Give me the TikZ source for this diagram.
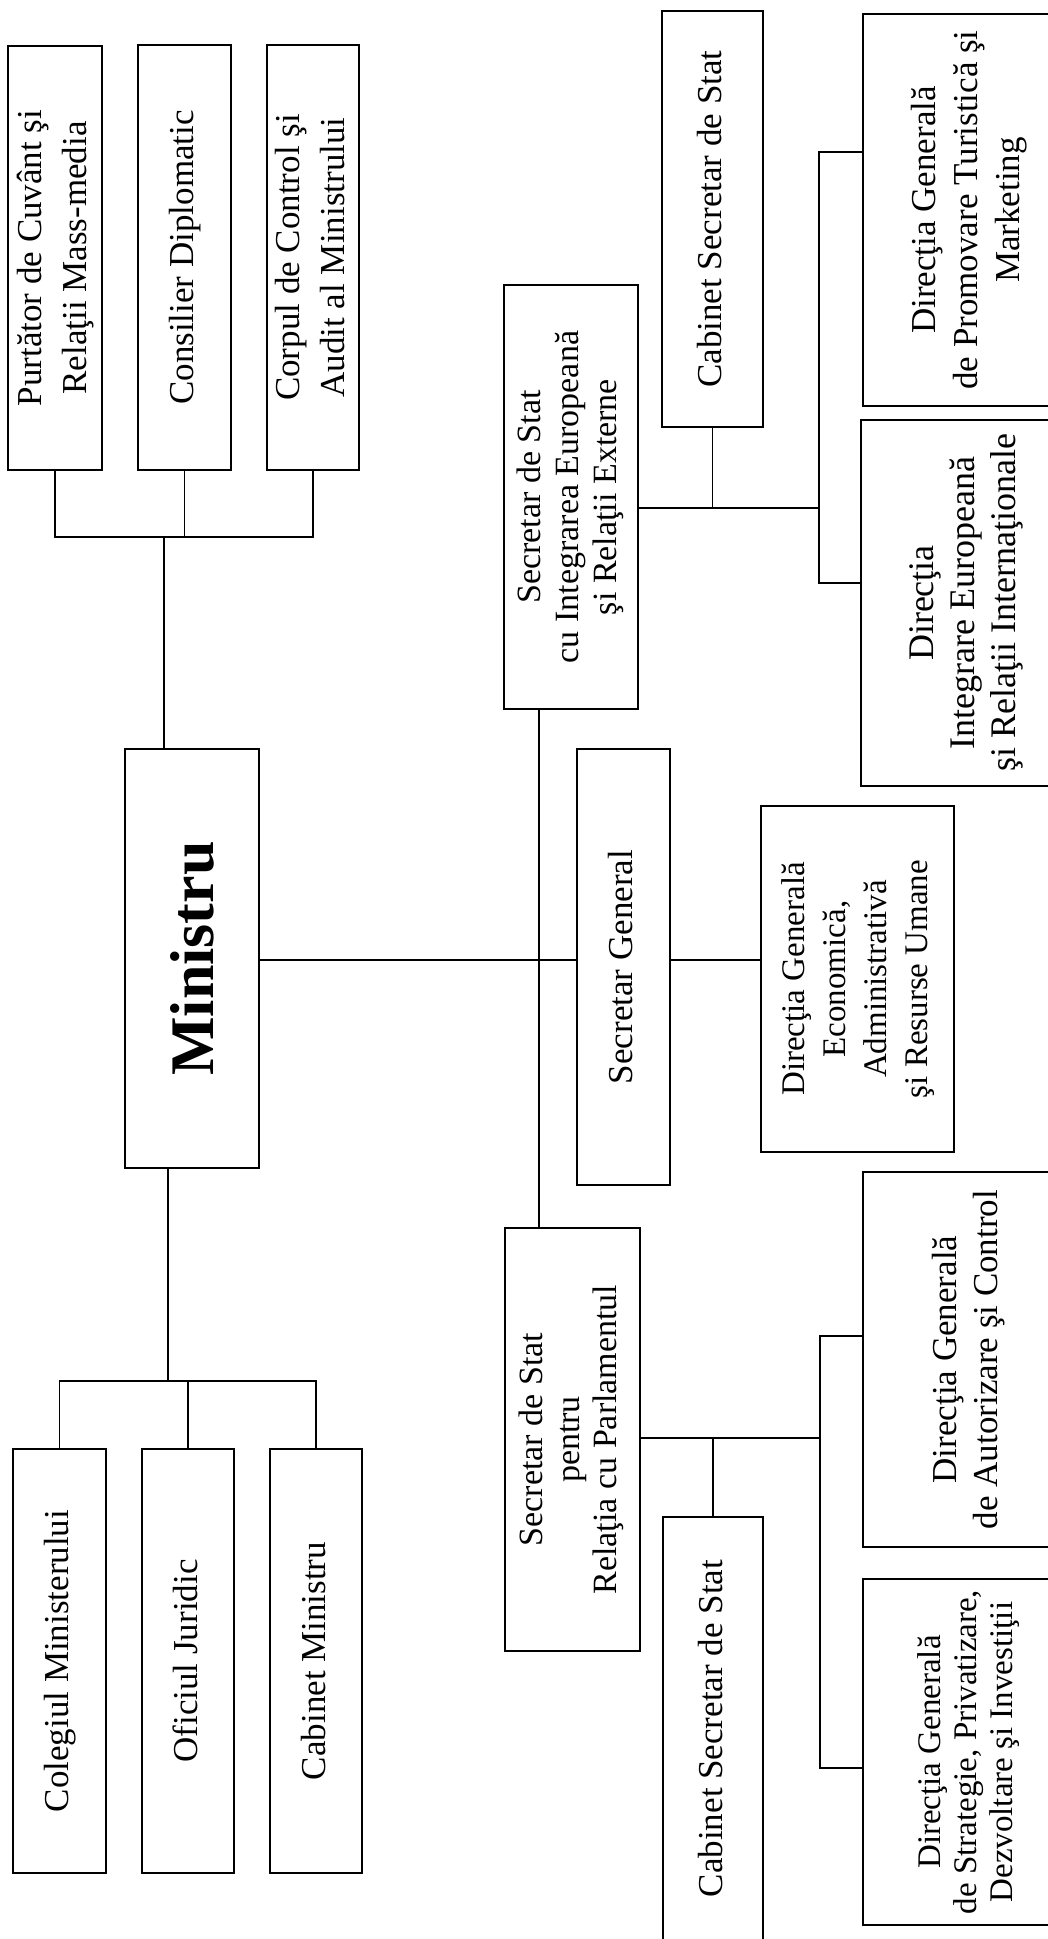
\documentclass[tikz,border=0pt]{standalone}
\usepackage{fontspec}
\setmainfont{Liberation Serif}
\newcommand{\rtxt}[3]{\rotatebox{90}{\fontsize{#1}{#2}\selectfont\begin{tabular}{@{}c@{}}#3\end{tabular}}}
\begin{document}
\begin{tikzpicture}[x=1pt,y=-1pt,
  box/.style={draw, line width=1.3pt, inner sep=0pt, anchor=center},
  conn/.style={draw, line width=1.3pt}]
\useasboundingbox (0,0) rectangle (1048,1939);
\clip (0,0) rectangle (1048,1939);
\fill[white] (0,0) rectangle (1048,1939);
% top-left group
\node[box, minimum width=94pt, minimum height=424pt] (P1) at (55,258) {\rtxt{35}{45}{Purtător de Cuvânt şi\\Relaţii Mass-media}};
\node[box, minimum width=93pt, minimum height=425pt] (P2) at (184.5,257.5) {\rtxt{35}{45}{Consilier Diplomatic}};
\node[box, minimum width=92pt, minimum height=425pt] (P3) at (313,257.5) {\rtxt{35}{45}{Corpul de Control şi\\Audit al Ministrului}};
% minister
\node[box, minimum width=134pt, minimum height=419pt] (M) at (192,958.5) {\rotatebox{90}{\fontsize{62}{70}\selectfont\bfseries Ministru}};
% lower-left group
\node[box, minimum width=93pt, minimum height=424pt] (L1) at (59.5,1661) {\rtxt{35}{45}{Colegiul Ministerului}};
\node[box, minimum width=92pt, minimum height=424pt] (L2) at (188,1661) {\rtxt{35}{45}{Oficiul Juridic}};
\node[box, minimum width=92pt, minimum height=424pt] (L3) at (316,1661) {\rtxt{35}{45}{Cabinet Ministru}};
% secretaries
\node[box, minimum width=134pt, minimum height=424pt] (E) at (571,497) {\rtxt{34}{38}{Secretar de Stat\\cu Integrarea Europeană\\şi Relaţii Externe}};
\node[box, minimum width=93pt, minimum height=436pt] (SG) at (623.5,967) {\rtxt{35}{45}{Secretar General}};
\node[box, minimum width=135pt, minimum height=423pt] (PA) at (572.5,1439.5) {\rtxt{34}{37}{Secretar de Stat\\pentru\\Relaţia cu Parlamentul}};
% cabinets
\node[box, minimum width=101pt, minimum height=416pt] (CT) at (712.5,219) {\rtxt{35}{45}{Cabinet Secretar de Stat}};
\node[box, minimum width=100pt, minimum height=423pt] (CB) at (713,1728.5) {\rtxt{35}{45}{Cabinet Secretar de Stat}};
% directorates
\node[box, minimum width=212pt, minimum height=392pt] (PR) at (969,210) {\rtxt{35}{42}{Direcţia Generală\\de Promovare Turistică şi\\Marketing}};
\node[box, minimum width=211pt, minimum height=366pt] (IN) at (966.5,603) {\rtxt{36}{41}{Direcţia\\Integrare Europeană\\şi Relaţii Internaţionale}};
\node[box, minimum width=193pt, minimum height=346pt] (DGE) at (857.5,979) {\rtxt{33}{41}{Direcţia Generală\\Economică,\\Administrativă\\şi Resurse Umane}};
\node[box, minimum width=212pt, minimum height=375pt] (AU) at (969,1359.5) {\rtxt{35}{41}{Direcţia Generală\\de Autorizare şi Control}};
\node[box, minimum width=212pt, minimum height=346pt] (ST) at (969,1752) {\rtxt{33}{36}{Direcţia Generală\\de Strategie, Privatizare,\\Dezvoltare şi Investiţii}};
% junction coordinates
\coordinate (tb) at (164,537);
\coordinate (lb) at (168,1381);
\coordinate (ev) at (539,960);
\coordinate (eh) at (819,508);
\coordinate (c1) at (819,152);
\coordinate (c2) at (819,583);
\coordinate (ph) at (820,1438);
\coordinate (c3) at (820,1336);
\coordinate (c4) at (820,1768);
% top bracket
\path[conn] (P1.south) -- (P1.south |- tb) -- (P3.south |- tb) -- (P3.south);
\path[conn] (P2.south) -- (P2.south |- tb);
\path[conn] (tb) -- (tb |- M.north);
% lower bracket
\path[conn] (lb |- M.south) -- (lb);
\path[conn] (L1.north) -- (L1.north |- lb) -- (L3.north |- lb) -- (L3.north);
\path[conn] (L2.north) -- (L2.north |- lb);
% main horizontal
\path[conn] (M.east |- ev) -- (SG.west |- ev);
\path[conn] (SG.east |- ev) -- (DGE.west |- ev);
\path[conn] (E.south -| ev) -- (PA.north -| ev);
% EU branch
\path[conn] (E.east |- eh) -- (eh);
\path[conn] (CT.south) -- (CT.south |- eh);
\path[conn] (PR.west |- c1) -- (c1) -- (c2) -- (IN.west |- c2);
% Parliament branch
\path[conn] (PA.east |- ph) -- (ph);
\path[conn] (CB.north) -- (CB.north |- ph);
\path[conn] (AU.west |- c3) -- (c3) -- (c4) -- (ST.west |- c4);
\end{tikzpicture}
\end{document}
